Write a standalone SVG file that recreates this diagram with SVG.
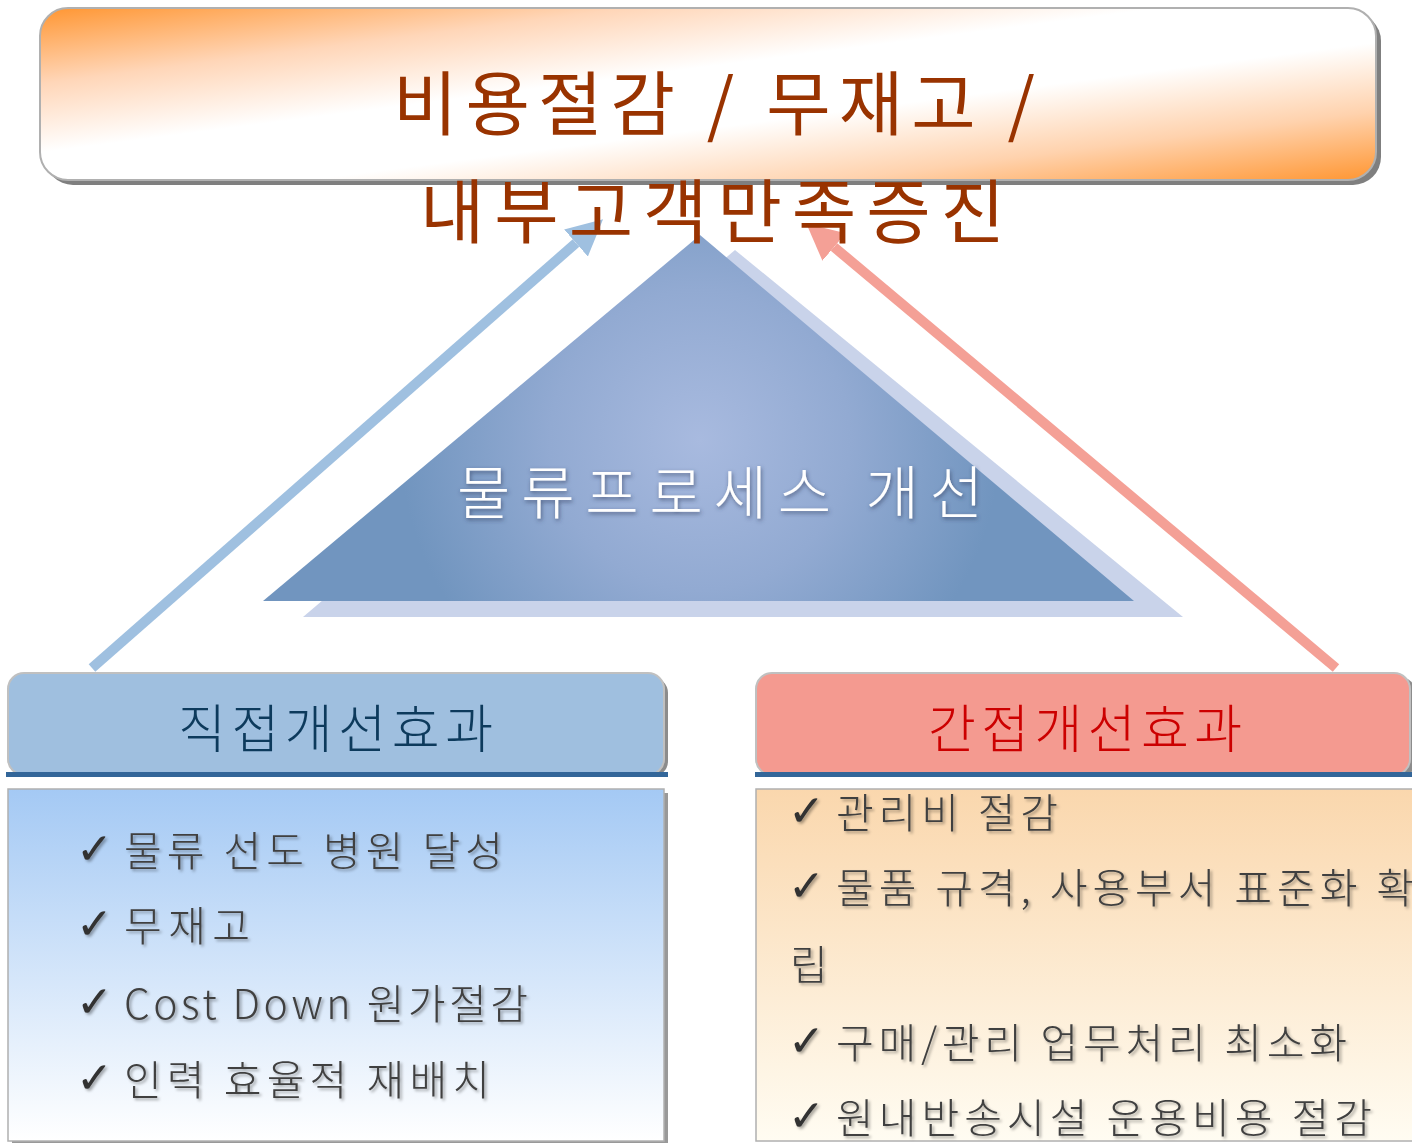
<svg xmlns="http://www.w3.org/2000/svg" width="1412" height="1143" viewBox="0 0 1412 1143">
<style>
.kr{font-family:"Noto Sans CJK KR","Noto Sans",sans-serif;}
.title{font-size:70px;fill:#993300;}
.tri{font-size:58px;fill:#ffffff;font-weight:300;}
.hd{font-size:52px;font-weight:300;}
.item{font-size:41px;fill:#404040;font-weight:300;}
.chk{font-family:"DejaVu Sans",sans-serif;font-size:44px;font-weight:bold;fill:#333333;}
.arrow{fill:none;stroke-width:10;}
</style>
<defs>
<linearGradient id="gTop" x1="0" y1="0" x2="1" y2="1">
<stop offset="0" stop-color="#ff9632"/>
<stop offset="0.22" stop-color="#ffd6b8"/>
<stop offset="0.42" stop-color="#ffffff"/>
<stop offset="0.6" stop-color="#ffffff"/>
<stop offset="0.8" stop-color="#ffd2ad"/>
<stop offset="1" stop-color="#ff9632"/>
</linearGradient>
<radialGradient id="gTri" cx="700" cy="440" r="300" gradientUnits="userSpaceOnUse">
<stop offset="0" stop-color="#a8badf"/>
<stop offset="0.5" stop-color="#92aad2"/>
<stop offset="1" stop-color="#7195bf"/>
</radialGradient>
<linearGradient id="gLeft" x1="0" y1="0" x2="0" y2="1">
<stop offset="0" stop-color="#a4c9f4"/>
<stop offset="1" stop-color="#ffffff"/>
</linearGradient>
<linearGradient id="gRight" x1="0" y1="0" x2="0" y2="1">
<stop offset="0" stop-color="#fad7ad"/>
<stop offset="1" stop-color="#fffcf2"/>
</linearGradient>
<filter id="sh" x="-5%" y="-20%" width="110%" height="140%">
<feDropShadow dx="2" dy="2" stdDeviation="1.5" flood-color="#000000" flood-opacity="0.35"/>
</filter>
<filter id="glow" x="-5%" y="-20%" width="110%" height="140%">
<feDropShadow dx="1" dy="2" stdDeviation="2" flood-color="#304060" flood-opacity="0.7"/>
</filter>
<marker id="mBlue" viewBox="0 0 10 10" refX="0" refY="5" markerWidth="3.6" markerHeight="3.6" orient="auto" markerUnits="strokeWidth">
<path d="M0,0 L10,5 L0,10 z" fill="#9fc0e0"/>
</marker>
<marker id="mRed" viewBox="0 0 10 10" refX="0" refY="5" markerWidth="3.6" markerHeight="3.6" orient="auto" markerUnits="strokeWidth">
<path d="M0,0 L10,5 L0,10 z" fill="#f4a096"/>
</marker>
</defs>

<g id="pyramid">
<polygon points="735,250 303,617 1183,617" fill="#c9d3ea"/>
<polygon points="700,235 263,601 1134,601" fill="url(#gTri)"/>
<text class="kr tri" x="457" y="514" textLength="526" lengthAdjust="spacing" filter="url(#glow)">물류프로세스 개선</text>
</g>

<g id="connectors">
<line class="arrow" x1="92" y1="668" x2="576" y2="243" stroke="#9fc0e0" marker-end="url(#mBlue)"/>
<line class="arrow" x1="1336" y1="668" x2="834" y2="247" stroke="#f4a096" marker-end="url(#mRed)"/>
</g>

<g id="goal">
<rect x="45" y="13" width="1336" height="172" rx="28" fill="#7f7f7f"/>
<rect x="40" y="8" width="1336" height="172" rx="28" fill="url(#gTop)" stroke="#b0b0b0" stroke-width="2"/>
<text class="kr title" x="393" y="130" textLength="642" lengthAdjust="spacing">비용절감 / 무재고 /</text>
<text class="kr title" x="420" y="238" textLength="585" lengthAdjust="spacing">내부고객만족증진</text>
</g>

<g id="direct">
<rect x="12" y="677" width="656" height="100" rx="16" fill="#8c8c8c"/>
<rect x="8" y="673" width="656" height="102" rx="16" fill="#9fbfdf" stroke="#c0c0c0" stroke-width="2"/>
<rect x="6" y="772" width="662" height="5" fill="#336699"/>
<rect x="12" y="793" width="656" height="350" fill="#999999"/>
<rect x="8" y="789" width="656" height="352" fill="url(#gLeft)" stroke="#b0b0b0" stroke-width="1.5"/>
<text class="kr hd" x="178" y="748" textLength="315" lengthAdjust="spacing" fill="#0d3a5c">직접개선효과</text>
<g filter="url(#sh)">
<text class="chk" x="76" y="864">✓</text>
<text class="kr item" x="124" y="866" textLength="379" lengthAdjust="spacing">물류 선도 병원 달성</text>
<text class="chk" x="76" y="939">✓</text>
<text class="kr item" x="124" y="941" textLength="126" lengthAdjust="spacing">무재고</text>
<text class="chk" x="76" y="1017">✓</text>
<text class="kr item" x="124" y="1019" textLength="404" lengthAdjust="spacing">Cost Down 원가절감</text>
<text class="chk" x="76" y="1093">✓</text>
<text class="kr item" x="124" y="1095" textLength="366" lengthAdjust="spacing">인력 효율적 재배치</text>
</g>
</g>

<g id="indirect">
<rect x="760" y="677" width="656" height="100" rx="16" fill="#8c8c8c"/>
<rect x="756" y="673" width="654" height="102" rx="16" fill="#f49a90" stroke="#c0c0c0" stroke-width="2"/>
<rect x="755" y="772" width="657" height="5" fill="#336699"/>
<rect x="756" y="789" width="660" height="352" fill="url(#gRight)" stroke="#b0b0b0" stroke-width="1.5"/>
<text class="kr hd" x="928" y="748" textLength="314" lengthAdjust="spacing" fill="#cc0000">간접개선효과</text>
<g filter="url(#sh)">
<text class="chk" x="788" y="826">✓</text>
<text class="kr item" x="836" y="828" textLength="222" lengthAdjust="spacing">관리비 절감</text>
<text class="chk" x="788" y="901">✓</text>
<text class="kr item" x="836" y="903" textLength="578" lengthAdjust="spacing">물품 규격, 사용부서 표준화 확</text>
<text class="kr item" x="790" y="980">립</text>
<text class="chk" x="788" y="1056">✓</text>
<text class="kr item" x="836" y="1058" textLength="511" lengthAdjust="spacing">구매/관리 업무처리 최소화</text>
<text class="chk" x="788" y="1131">✓</text>
<text class="kr item" x="836" y="1133" textLength="536" lengthAdjust="spacing">원내반송시설 운용비용 절감</text>
</g>
</g>
</svg>
